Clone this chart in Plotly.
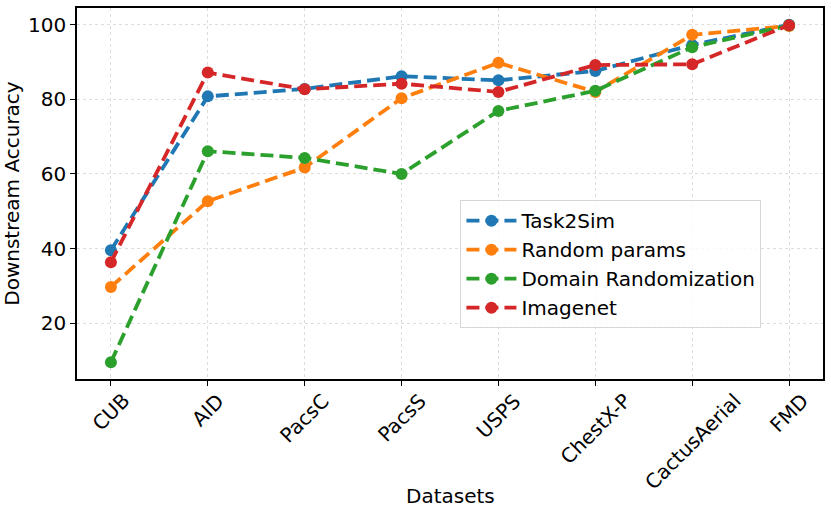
import plotly.graph_objects as go

# values
datasets = ['CUB', 'AID', 'PacsC', 'PacsS', 'USPS', 'ChestX-P', 'CactusAerial', 'FMD']
task2sim = [39.5, 80.8, 82.8, 86.2, 85.1, 87.6, 94.6, 100.0]
random_params = [29.7, 52.7, 61.7, 80.3, 89.8, 82.0, 97.3, 99.7]
domain_rand = [9.5, 66.1, 64.3, 60.0, 76.9, 82.3, 94.0, 99.8]
imagenet = [36.3, 87.2, 82.7, 84.2, 82.0, 89.2, 89.4, 99.9]

series = [
    ('Task2Sim', task2sim, '#1f77b4'),
    ('Random params', random_params, '#ff7f0e'),
    ('Domain Randomization', domain_rand, '#2ca02c'),
    ('Imagenet', imagenet, '#d62728'),
]

FONT = 'DejaVu Sans'
FS = 20
x_idx = list(range(len(datasets)))

fig = go.Figure()
for name, vals, color in series:
    fig.add_trace(go.Scatter(
        x=x_idx, y=vals, name=name, mode='lines+markers',
        line=dict(color=color, width=3.8, dash='13px,6px'),
        marker=dict(color=color, size=12),
    ))

# rotated category labels centred under each tick, like matplotlib rotation=45
for i, lab in enumerate(datasets):
    fig.add_annotation(
        x=i, y=0, xref='x', yref='paper', text=lab, textangle=-45,
        showarrow=False, xanchor='center', yanchor='top', yshift=-7,
        font=dict(family=FONT, size=FS, color='black'),
    )

fig.add_annotation(
    x=0.5, y=-0.316, xref='paper', yref='paper', text='Datasets',
    showarrow=False, xanchor='center', yanchor='middle',
    font=dict(family=FONT, size=FS, color='black'),
)

fig.update_layout(
    width=831, height=518,
    margin=dict(l=73, r=8, t=6, b=139),
    paper_bgcolor='white', plot_bgcolor='white',
    font=dict(family=FONT, size=FS, color='black'),
    legend=dict(
        x=0.514, y=0.482, xanchor='left', yanchor='top',
        bordercolor='#d6d6d6', borderwidth=1, bgcolor='rgba(255,255,255,0.8)',
        font=dict(family=FONT, size=FS), tracegroupgap=0, itemwidth=50,
    ),
)

fig.update_xaxes(
    range=[-0.35, 7.35], tickvals=x_idx, showticklabels=False,
    ticks='outside', ticklen=5, tickwidth=1.2, tickcolor='black',
    showline=True, linecolor='black', linewidth=1.5, mirror=True,
    showgrid=True, gridcolor='#dddddd', gridwidth=0.8, griddash='dot',
    zeroline=False,
)
fig.update_yaxes(
    range=[5.0, 104.5], tickvals=[20, 40, 60, 80, 100],
    ticks='outside', ticklen=5, tickwidth=1.2, tickcolor='black',
    tickfont=dict(family=FONT, size=FS),
    showline=True, linecolor='black', linewidth=1.5, mirror=True,
    showgrid=True, gridcolor='#dddddd', gridwidth=0.8, griddash='dot',
    zeroline=False,
    title=dict(text='Downstream Accuracy', font=dict(family=FONT, size=FS), standoff=8),
)

# drop the default page margin so the figure sits at the window's corner
fig.write_html('out.html', config={'displayModeBar': False},
               post_script="document.body.style.margin='0';")
